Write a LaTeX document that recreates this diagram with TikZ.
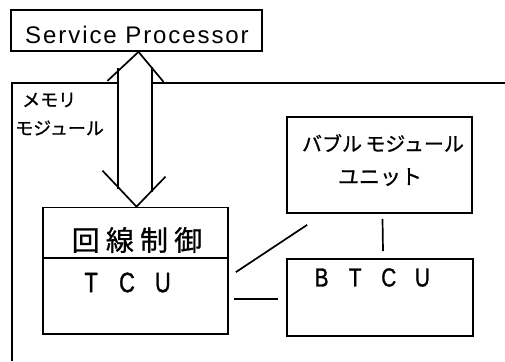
\documentclass[tikz,border=0pt]{standalone}
\usepackage{fontspec}
\usetikzlibrary{calc}
\setmainfont{Liberation Sans}
\newfontfamily\jpfont[FakeBold=0.8]{Noto Sans CJK JP}
\newfontfamily\capsfont[FakeBold=1.2]{Liberation Sans}
\newcommand{\lt}[2]{\makebox[#1]{#2}}
\begin{document}
\begin{tikzpicture}[x=1pt,y=-1pt,
  box/.style={draw=black,line width=1.7pt,fill=white,inner sep=0pt},
  wire/.style={draw=black,line width=1.7pt},
  frame/.style={draw=black,line width=1.3pt},
  lbl/.style={inner sep=0pt,anchor=center}]
\useasboundingbox (0,0) rectangle (505,361);

% enclosing unit frame (runs off the right and bottom)
\draw[frame] (505,83) -- (12,83) -- (12,361);

% boxes
\node[box,minimum width=251pt,minimum height=41pt] (sp) at (136.5,30.5) {};
\node[box,minimum width=185pt,minimum height=96pt] (bub) at (379.5,165) {};
\node[box,minimum width=185pt,minimum height=51pt] (ctl) at (135.5,233) {};
\node[box,minimum width=185pt,minimum height=76pt] (tcu) at (135.5,296) {};
\node[box,minimum width=186pt,minimum height=77pt] (btcu) at (380,297.5) {};

% labels
\node[lbl] (sptext) at (137,35) {\fontsize{24}{24}\selectfont\addfontfeatures{LetterSpace=8}Service Processor};
\node[lbl,anchor=west] (mem1) at (22,100) {\jpfont\fontsize{18}{18}\selectfont メモリ};
\node[lbl,anchor=west] (mem2) at (15,128) {\jpfont\fontsize{18}{18}\selectfont モジュール};
\node[lbl] (bub1) at (383,143) {\jpfont\fontsize{20}{20}\selectfont バブル\,モジュール};
\node[lbl] (bub2) at (380,177) {\jpfont\fontsize{21}{21}\selectfont ユニット};
\node[lbl] (ctltext) at (137,240) {\jpfont\fontsize{28}{28}\selectfont\addfontfeatures{LetterSpace=22}回線制御};
\node[lbl] (tcutext) at (127,282.5) {\capsfont\fontsize{28}{28}\selectfont\scalebox{0.78}[1]{\lt{46pt}{T}\lt{46pt}{C}\lt{46pt}{U}}};
\node[lbl] (btcutext) at (372,277.5) {\capsfont\fontsize{26}{26}\selectfont\scalebox{0.8}[1]{\lt{42pt}{B}\lt{42pt}{T}\lt{42pt}{C}\lt{42pt}{U}}};

% connectors between the units
\coordinate (d1) at ($(tcu.north east)+(7,15)$);
\coordinate (d2) at ($(bub.south west)+(21,11)$);
\draw[wire] (d1) -- (d2);
\coordinate (v1) at ($(bub.south)+(3,5)$);
\coordinate (v2) at ($(btcu.north)+(3,-7)$);
\draw[wire] (v1) -- (v2);
\coordinate (h1) at ($(tcu.east)+(5,3)$);
\coordinate (h2) at ($(btcu.west)+(-8,1.5)$);
\draw[wire] (h1) -- (h2);

% open double arrow between the service processor and line control
\coordinate (atop) at ($(sp.south)+(2,0)$);
\coordinate (abot) at ($(ctl.north)+(1,0)$);
\fill[white] (118,68) rectangle (152,192);
\draw[wire,line join=miter] ($(atop)+(-31,29)$) -- (atop) -- ($(atop)+(25,30)$);
\draw[wire] (118,68) -- (118,189);
\draw[wire] (152,67) -- (152,192);
\draw[wire,line join=miter] ($(abot)+(-34,-36)$) -- (abot) -- ($(abot)+(29,-30)$);
\end{tikzpicture}
\end{document}
